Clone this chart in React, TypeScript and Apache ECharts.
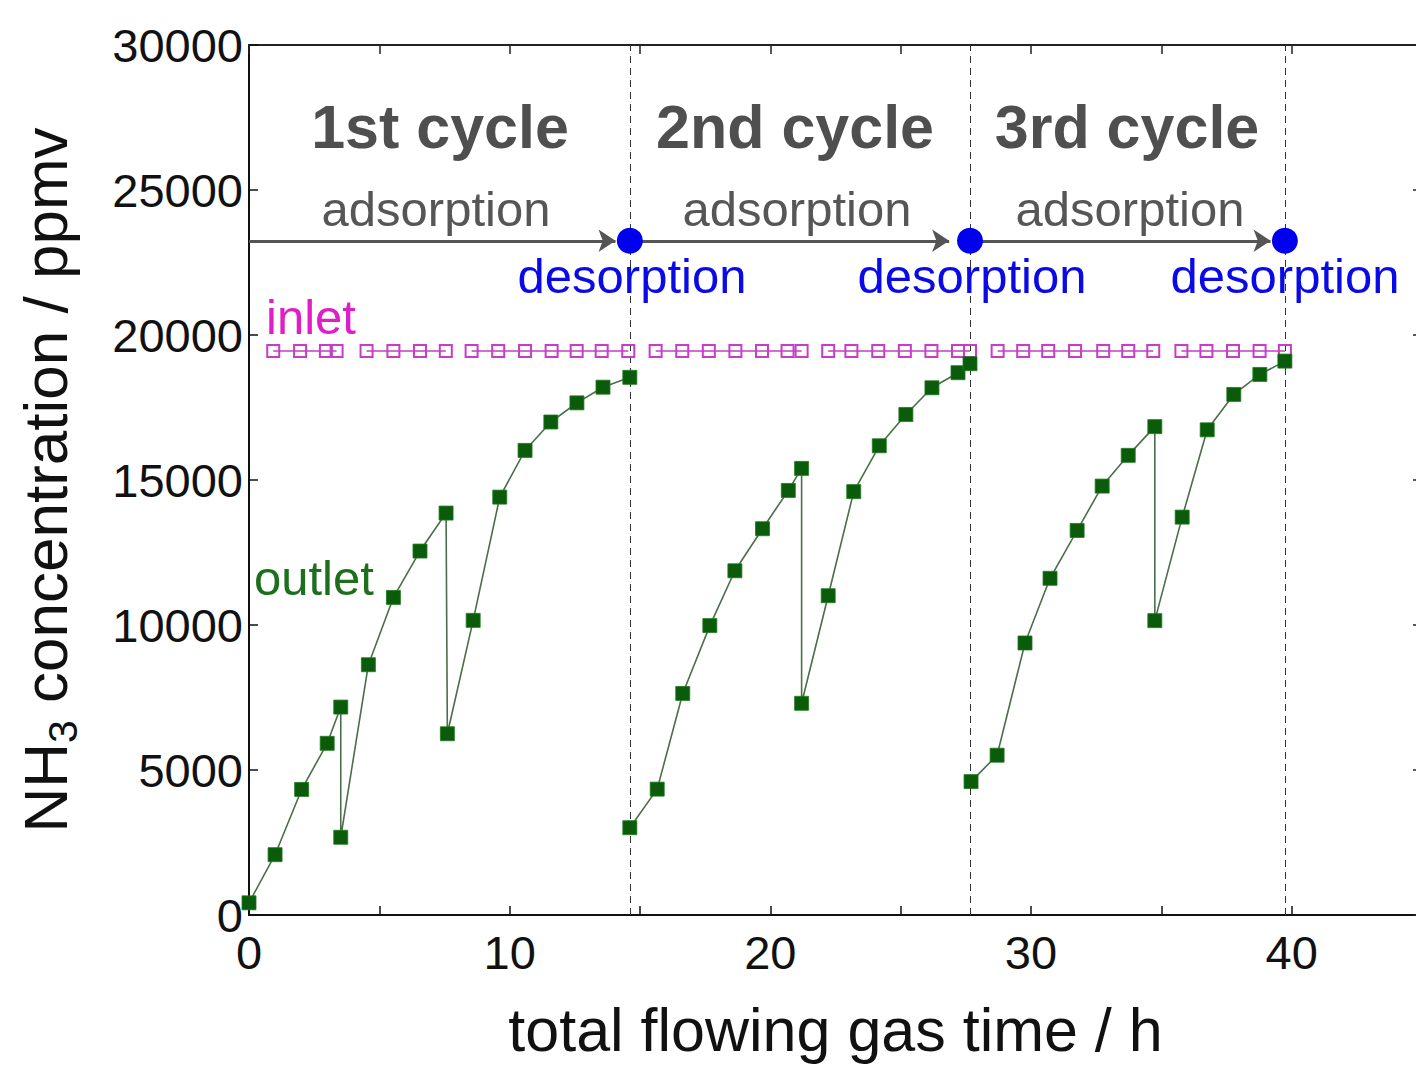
import { useEffect, useRef } from 'react';
import * as echarts from 'echarts';

const FONT = '"Liberation Sans", Arial, Helvetica, sans-serif';

// Outlet NH3 concentration, one array pair per adsorption cycle (time in h, ppmv)
const outletTime1 = [0, 1.0, 2.02, 3.0, 3.52, 3.52, 4.58, 5.54, 6.56, 7.56, 7.61, 8.6, 9.62, 10.59, 11.58, 12.58, 13.58, 14.61];
const outletValue1 = [420, 2080, 4330, 5920, 7170, 2680, 8630, 10950, 12550, 13860, 6250, 10160, 14410, 16020, 17000, 17660, 18200, 18540];

const outletTime2 = [14.61, 15.66, 16.64, 17.68, 18.64, 19.7, 20.69, 21.2, 21.2, 22.22, 23.2, 24.18, 25.2, 26.2, 27.2, 27.66];
const outletValue2 = [3010, 4340, 7640, 9980, 11870, 13320, 14640, 15400, 7300, 11010, 14600, 16180, 17260, 18180, 18700, 19010];

const outletTime3 = [27.7, 28.7, 29.77, 30.73, 31.77, 32.73, 33.73, 34.75, 34.75, 35.8, 36.76, 37.78, 38.78, 39.74];
const outletValue3 = [4600, 5510, 9380, 11610, 13260, 14790, 15850, 16840, 10150, 13720, 16730, 17950, 18640, 19100];

// Inlet NH3 concentration, measured in runs (each inner array is one connected run)
const inletTime = [
  [0.93, 1.96, 2.95, 3.36],
  [4.51, 5.54, 6.56, 7.55],
  [8.54, 9.56, 10.59, 11.61, 12.57, 13.53, 14.55],
  [15.6, 16.62, 17.64, 18.66, 19.68, 20.66, 21.2],
  [22.22, 23.11, 24.14, 25.16, 26.18, 27.2, 27.66],
  [28.72, 29.7, 30.66, 31.69, 32.77, 33.73, 34.69],
  [35.77, 36.73, 37.75, 38.77, 39.74],
];
const inletValue = [
  [19450, 19450, 19450, 19450],
  [19450, 19450, 19450, 19450],
  [19450, 19450, 19450, 19450, 19450, 19450, 19450],
  [19450, 19450, 19450, 19450, 19450, 19450, 19450],
  [19450, 19450, 19450, 19450, 19450, 19450, 19450],
  [19450, 19450, 19450, 19450, 19450, 19450, 19450],
  [19450, 19450, 19450, 19450, 19450],
];

// Switch from adsorption to desorption at the end of each cycle
const desorptionTime = [14.61, 27.66, 39.74];
const adsorptionStart = [0, 14.61, 27.66];
const markerLevel = 23250;
const arrowGap = [0.55, 0.8, 0.55];

const yTicks = [0, 5000, 10000, 15000, 20000, 25000, 30000];
const xTicks = [0, 10, 20, 30, 40];

const pairs = (xs: number[], ys: number[]) => xs.map((x, i) => [x, ys[i]]);

export default function App() {
  const ref = useRef<HTMLDivElement>(null);

  useEffect(() => {
    const chart = echarts.init(ref.current!, null, { renderer: 'svg' });

    const outletSeries = [
      [outletTime1, outletValue1],
      [outletTime2, outletValue2],
      [outletTime3, outletValue3],
    ].map(([t, v]) => ({
      type: 'line',
      data: pairs(t, v),
      symbol: 'rect',
      symbolSize: 14,
      itemStyle: { color: '#0a5c0a', borderColor: '#1f7a1f', borderWidth: 0.8 },
      lineStyle: { color: '#4a6e4a', width: 1.6 },
      z: 4,
      silent: true,
    }));

    const inletSeries = inletTime.map((t, i) => ({
      type: 'line',
      data: pairs(t, inletValue[i]),
      symbol: 'rect',
      symbolSize: 12,
      itemStyle: { color: 'rgba(255,255,255,0)', borderColor: '#c83cc8', borderWidth: 2 },
      lineStyle: { color: '#c040c0', width: 1.5 },
      z: 3,
      silent: true,
    }));

    const arrows = {
      type: 'lines',
      coordinateSystem: 'cartesian2d',
      data: adsorptionStart.map((s, i) => ({
        coords: [
          [s, markerLevel],
          [desorptionTime[i] - arrowGap[i], markerLevel],
        ],
      })),
      symbol: ['none', 'arrow'],
      symbolSize: 17,
      lineStyle: { color: '#555555', width: 2.8, opacity: 1, curveness: 0 },
      z: 5,
      silent: true,
    };

    const dots = {
      type: 'scatter',
      data: desorptionTime.map((t) => [t, markerLevel]),
      symbol: 'circle',
      symbolSize: 26,
      itemStyle: { color: '#0000ee', opacity: 1 },
      z: 6,
      silent: true,
      markLine: {
        silent: true,
        symbol: 'none',
        label: { show: false },
        lineStyle: { color: '#333333', width: 1, type: [7, 5] },
        data: desorptionTime.map((t) => ({ xAxis: t })),
        z: 1,
      },
    };

    const textEl = (text: string, x: number, y: number, size: number, color: string, bold = false, align = 'center') => ({
      type: 'text',
      x,
      y,
      silent: true,
      style: {
        text,
        fill: color,
        font: `${bold ? 'bold ' : ''}${size}px ${FONT}`,
        align,
        verticalAlign: 'middle',
      },
      z: 10,
    });

    const option = {
      animation: false,
      backgroundColor: '#ffffff',
      grid: { left: 249, top: 45, width: 1173, height: 880, containLabel: false },
      xAxis: [
        {
          type: 'value',
          min: 0,
          max: 45,
          interval: 5,
          position: 'bottom',
          axisLine: { show: true, onZero: false, lineStyle: { color: '#111', width: 2 } },
          axisTick: { show: true, inside: true, length: 9, lineStyle: { color: '#111', width: 1.5 } },
          axisLabel: {
            fontSize: 47,
            fontFamily: FONT,
            color: '#111',
            margin: 14,
            formatter: (v: number) => (xTicks.includes(v) ? String(v) : ''),
          },
          splitLine: { show: false },
          name: 'total flowing gas time / h',
          nameLocation: 'middle',
          nameGap: 84,
          nameTextStyle: { fontSize: 61, fontFamily: FONT, color: '#111' },
        },
        {
          type: 'value',
          min: 0,
          max: 45,
          interval: 5,
          position: 'top',
          axisLine: { show: true, onZero: false, lineStyle: { color: '#222', width: 2 } },
          axisTick: { show: true, inside: true, length: 9, lineStyle: { color: '#222', width: 1.5 } },
          axisLabel: { show: false },
          splitLine: { show: false },
        },
      ],
      yAxis: [
        {
          type: 'value',
          min: 0,
          max: 30000,
          interval: 5000,
          position: 'left',
          axisLine: { show: true, onZero: false, lineStyle: { color: '#111', width: 2 } },
          axisTick: { show: true, inside: true, length: 9, lineStyle: { color: '#111', width: 1.5 } },
          axisLabel: {
            fontSize: 47,
            fontFamily: FONT,
            color: '#111',
            margin: 6,
            formatter: (v: number) => (yTicks.includes(v) ? String(v) : ''),
          },
          splitLine: { show: false },
          name: '{a|NH}{b|3}{a| concentration / ppmv}',
          nameLocation: 'middle',
          nameRotate: 90,
          nameGap: 166,
          nameTextStyle: {
            fontSize: 62,
            fontFamily: FONT,
            color: '#111',
            rich: {
              a: { fontSize: 62, fontFamily: FONT, color: '#111' },
              b: { fontSize: 41, fontFamily: FONT, color: '#111', padding: [35, 0, 0, 0] },
            },
          },
        },
        {
          type: 'value',
          min: 0,
          max: 30000,
          interval: 5000,
          position: 'right',
          axisLine: { show: true, onZero: false, lineStyle: { color: '#222', width: 2 } },
          axisTick: { show: true, inside: true, length: 9, lineStyle: { color: '#222', width: 1.5 } },
          axisLabel: { show: false },
          splitLine: { show: false },
        },
      ],
      series: [...inletSeries, ...outletSeries, arrows, dots],
      graphic: [
        textEl('1st cycle', 440, 127, 61, '#4f4f4f', true),
        textEl('2nd cycle', 795, 127, 61, '#4f4f4f', true),
        textEl('3rd cycle', 1127, 127, 61, '#4f4f4f', true),
        textEl('adsorption', 436, 209, 49, '#565656'),
        textEl('adsorption', 797, 209, 49, '#565656'),
        textEl('adsorption', 1130, 209, 49, '#565656'),
        textEl('desorption', 632, 276, 49, '#0a0ae6'),
        textEl('desorption', 972, 276, 49, '#0a0ae6'),
        textEl('desorption', 1285, 276, 49, '#0a0ae6'),
        textEl('inlet', 266, 317, 49, '#e01ec8', false, 'left'),
        textEl('outlet', 254, 578, 49, '#1d6e1d', false, 'left'),
      ],
    };

    chart.setOption(option as any);
    return () => chart.dispose();
  }, []);

  // The plot frame runs a few pixels past the right edge of the page, so the
  // chart is drawn slightly wider than its clipping box.
  return (
    <div style={{ position: 'absolute', left: 0, top: 0, width: 1416, height: 1065, overflow: 'hidden', background: '#ffffff' }}>
      <div ref={ref} style={{ width: 1432, height: 1065 }} />
    </div>
  );
}
